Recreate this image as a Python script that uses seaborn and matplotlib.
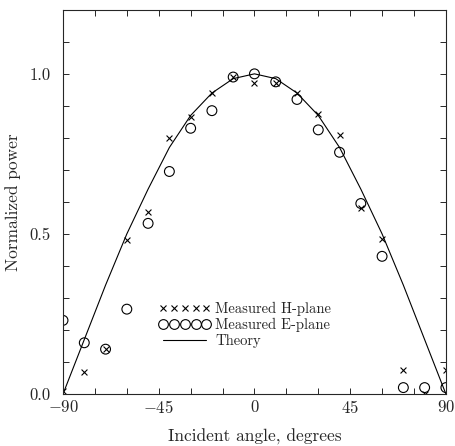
import numpy as np
import pandas as pd
import seaborn as sns
import matplotlib.pyplot as plt
from matplotlib.lines import Line2D
from matplotlib.ticker import MultipleLocator, FixedLocator

#---------------------------------data
angle = [-90, -80, -70, -60, -50, -40, -30, -20, -10, 0, 10, 20, 30, 40, 50, 60, 70, 80, 90]
h_plane = [0.01, 0.07, 0.14, 0.48, 0.57, 0.80, 0.865, 0.94, 0.99, 0.97, 0.97, 0.94, 0.875, 0.81, 0.58, 0.485, 0.075, 0.0, 0.075]
e_plane = [0.23, 0.16, 0.14, 0.265, 0.533, 0.695, 0.83, 0.885, 0.99, 1.0, 0.975, 0.92, 0.825, 0.755, 0.595, 0.43, 0.02, 0.02, 0.02]
theory = [0.0, 0.17, 0.34, 0.50, 0.64, 0.77, 0.87, 0.94, 0.985, 1.0, 0.985, 0.94, 0.87, 0.77, 0.64, 0.50, 0.34, 0.17, 0.0]

df = pd.DataFrame({"angle": angle, "h": h_plane, "e": e_plane, "theory": theory})

#---------------------------------style
sns.set_style("ticks")
plt.rcParams["font.family"] = ["cmr10", "DejaVu Serif"]
plt.rcParams["mathtext.fontset"] = "cm"
plt.rcParams["axes.formatter.use_mathtext"] = True
plt.rcParams["axes.unicode_minus"] = True

fig = plt.figure(figsize=(4.55, 4.46), dpi=100)
ax = fig.add_axes([0.1385, 0.1166, 0.8415, 0.8614])

sns.lineplot(data=df, x="angle", y="theory", color="black", linewidth=0.8, ax=ax)
sns.scatterplot(data=df, x="angle", y="h", marker="x", s=18, color="black", linewidth=0.8, ax=ax)
sns.scatterplot(data=df, x="angle", y="e", marker="o", s=50, facecolor="none", edgecolor="black", linewidth=0.8, ax=ax)

ax.set_xlim(-90, 90)
ax.set_ylim(0, 1.2)
ax.xaxis.set_major_locator(FixedLocator([-90, -45, 0, 45, 90]))
ax.xaxis.set_minor_locator(MultipleLocator(15))
ax.yaxis.set_major_locator(FixedLocator([0.0, 0.5, 1.0]))
ax.yaxis.set_minor_locator(MultipleLocator(0.1))
ax.set_yticklabels(["0.0", "0.5", "1.0"])
ax.tick_params(which="both", direction="in", top=True, right=True, length=4, width=0.7, labelsize=12)
ax.tick_params(axis="y", pad=9)
for sp in ax.spines.values():
    sp.set_linewidth(0.8)
    sp.set_visible(True)

ax.set_xlabel("Incident angle, degrees", fontsize=12.5, labelpad=9)
ax.set_ylabel("Normalized power", fontsize=12.5, labelpad=6)

handles = [
    Line2D([], [], linestyle="none", marker="x", markersize=4.5, color="black", markeredgewidth=0.8),
    Line2D([], [], linestyle="none", marker="o", markersize=7, markerfacecolor="none", markeredgecolor="black", markeredgewidth=0.8),
    Line2D([], [], color="black", linewidth=0.8),
]
labels = ["Measured H-plane", "Measured E-plane", "Theory"]
ax.legend(handles, labels, numpoints=5, frameon=False, loc="upper left",
          bbox_to_anchor=(0.23, 0.26), handlelength=3.6, handletextpad=0.3,
          labelspacing=0.15, fontsize=10.5, borderpad=0)

fig.savefig("out.png", dpi=100)
